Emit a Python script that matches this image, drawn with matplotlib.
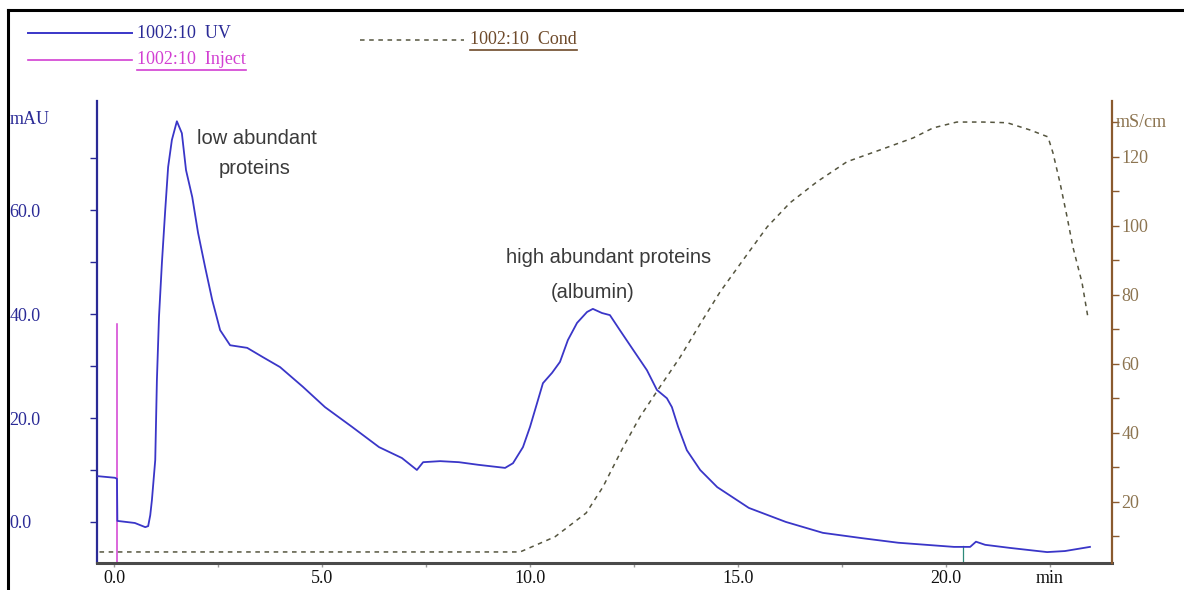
import matplotlib.pyplot as plt
from matplotlib.lines import Line2D

# UV absorbance trace, 1002:10 run
uv_time = [-0.38, 0.02, 0.07, 0.08, 0.50, 0.75, 0.82, 0.87, 0.91, 0.99, 1.03, 1.08,
           1.15, 1.23, 1.30, 1.39, 1.51, 1.63, 1.73, 1.88, 2.02, 2.19, 2.36, 2.55,
           2.79, 3.20, 3.58, 3.99, 4.54, 5.07, 5.72, 6.37, 6.92, 7.28, 7.43, 7.84,
           8.29, 8.75, 9.40, 9.59, 9.83, 10.00, 10.17, 10.31, 10.53, 10.72, 10.91,
           11.13, 11.37, 11.51, 11.73, 11.92, 12.16, 12.48, 12.81, 13.05, 13.29,
           13.41, 13.56, 13.77, 14.09, 14.50, 15.26, 16.15, 17.04, 17.96, 18.85,
           20.19, 20.58, 20.72, 20.94, 21.54, 22.43, 22.86, 23.46]
uv_mau = [8.8, 8.5, 8.3, 0.2, -0.2, -1.0, -0.8, 1.3, 4.2, 11.9, 27.3, 39.4,
          49.8, 60.0, 68.3, 73.5, 77.1, 74.8, 67.7, 62.5, 55.6, 49.0, 42.7, 36.9,
          34.0, 33.5, 31.7, 29.8, 26.0, 22.1, 18.3, 14.4, 12.3, 10.0, 11.5, 11.7,
          11.5, 11.0, 10.4, 11.3, 14.4, 18.3, 22.9, 26.7, 28.7, 30.8, 35.0,
          38.3, 40.4, 41.0, 40.2, 39.8, 36.9, 33.1, 29.2, 25.4, 23.8,
          22.1, 18.3, 13.8, 10.0, 6.7, 2.7, 0.0, -2.1, -3.1, -4.0,
          -4.8, -4.8, -3.8, -4.4, -5.0, -5.8, -5.6, -4.8]

# conductivity (mS/cm)
cond_time = [-0.35, 9.76, 10.60, 11.35, 11.75, 12.24, 12.64, 13.12, 13.61, 14.09,
             14.57, 15.12, 15.70, 16.25, 16.90, 17.62, 18.41, 19.21, 19.69, 20.26,
             20.89, 21.47, 22.02, 22.45, 22.57, 22.74, 22.91, 23.05, 23.27, 23.41]
cond_ms = [5.5, 5.5, 9.9, 16.8, 24.3, 35.9, 44.6, 53.3, 62.0, 71.6,
           80.9, 90.1, 99.7, 106.7, 112.8, 118.6, 122.0, 125.5, 128.4, 130.1,
           130.1, 129.9, 127.8, 125.8, 121.2, 112.5, 102.6, 93.9, 83.5, 73.6]

inject_time = 0.07
inject_top = 38.0
fraction_mark = 20.41

x_ticks = [0, 5, 10, 15, 20, 22.5]
x_labels = ['0.0', '5.0', '10.0', '15.0', '20.0', 'min']
uv_ticks = [0, 20, 40, 60]
uv_labels = ['0.0', '20.0', '40.0', '60.0']
cond_ticks = [20, 40, 60, 80, 100, 120]

UV_BLUE = '#3a36c8'
AXIS_BLUE = '#2a2a96'
MAGENTA = '#d23fd2'
BROWN = '#8a5a2e'
TAN = '#8c7450'
COND_GREY = '#55553f'

W, H = 1184, 590
fig = plt.figure(figsize=(W / 100, H / 100), dpi=100)
plt.rcParams['font.family'] = ['Liberation Serif', 'DejaVu Serif']


def fx(px):
    return px / W


def fy(py):
    return 1 - py / H


ax = fig.add_axes([fx(97), fy(563), fx(1112) - fx(97), fy(101) - fy(563)])
ax2 = ax.twinx()

ax.plot(uv_time, uv_mau, color=UV_BLUE, lw=1.3, zorder=3)
ax.plot([inject_time, inject_time], [-8, inject_top], color=MAGENTA, lw=1.1, zorder=2)
ax.plot([fraction_mark, fraction_mark], [-8, -4.6], color='#2e8a7a', lw=0.9, zorder=2)
ax2.plot(cond_time, cond_ms, color=COND_GREY, lw=1.1, ls=(0, (3, 3)))

ax.set_xlim(-0.41, 23.99)
ax.set_ylim(-7.9, 81.0)
ax2.set_ylim(2.3, 136.2)

# left axis: blue, labels pushed out to the frame
ax.set_yticks(uv_ticks)
ax.set_yticklabels(uv_labels)
ax.set_yticks(list(range(10, 90, 20)), minor=True)
ax.tick_params(axis='y', which='both', direction='out', length=5, width=1,
               color=AXIS_BLUE, labelcolor=AXIS_BLUE, labelsize=13, pad=58)
for lab in ax.get_yticklabels():
    lab.set_ha('left')

ax.set_xticks(x_ticks)
ax.set_xticklabels(x_labels)
ax.set_xticks([2.5, 7.5, 12.5, 17.5], minor=True)
ax.tick_params(axis='x', which='both', direction='out', length=3, width=1,
               color='#9a9a9a', labelcolor='#111111', labelsize=13, pad=2)

ax2.set_yticks(cond_ticks)
ax2.set_yticks(list(range(10, 140, 20)), minor=True)
ax2.tick_params(axis='y', which='both', direction='out', length=5, width=1,
                color=BROWN, labelcolor=TAN, labelsize=13, pad=2)

for a in (ax, ax2):
    a.spines['top'].set_visible(False)
    a.patch.set_visible(False)
ax.spines['right'].set_visible(False)
ax.spines['left'].set_color(AXIS_BLUE)
ax.spines['left'].set_linewidth(1.6)
ax.spines['bottom'].set_color('#4a4a4a')
ax.spines['bottom'].set_linewidth(2.2)
ax2.spines['left'].set_visible(False)
ax2.spines['bottom'].set_visible(False)
ax2.spines['right'].set_color(BROWN)
ax2.spines['right'].set_linewidth(1.6)

# peak annotations
sans = ['Liberation Sans', 'DejaVu Sans']
ax.text(3.44, 73.8, 'low abundant', family=sans, fontsize=14.5, color='#3a3a3a',
        ha='center', va='center', zorder=4)
ax.text(3.39, 68.1, 'proteins', family=sans, fontsize=14.5, color='#3a3a3a',
        ha='center', va='center', zorder=4)
ax.text(11.88, 50.8, 'high abundant proteins', family=sans, fontsize=14.5,
        color='#3a3a3a', ha='center', va='center', zorder=4)
ax.text(11.51, 44.2, '(albumin)', family=sans, fontsize=14.5, color='#3a3a3a',
        ha='center', va='center', zorder=4)

# unit labels
fig.text(fx(10), fy(120), 'mAU', color=AXIS_BLUE, fontsize=13, va='center')
fig.text(fx(1116), fy(123), 'mS/cm', color=TAN, fontsize=13, va='center')

# curve key along the top
fig.add_artist(Line2D([fx(28), fx(132)], [fy(33), fy(33)], color=UV_BLUE, lw=1.4))
fig.add_artist(Line2D([fx(28), fx(132)], [fy(60), fy(60)], color=MAGENTA, lw=1.2))
fig.add_artist(Line2D([fx(360), fx(464)], [fy(40), fy(40)], color=COND_GREY, lw=1.1,
                      ls=(0, (3, 3))))
key_uv = fig.text(fx(137), fy(33), '1002:10  UV', color=AXIS_BLUE, fontsize=13, va='center')
key_inj = fig.text(fx(137), fy(60), '1002:10  Inject', color=MAGENTA, fontsize=13, va='center')
key_cond = fig.text(fx(470), fy(40), '1002:10  Cond', color='#6e4a2a', fontsize=13, va='center')

fig.canvas.draw()
for t in (key_inj, key_cond):
    bb = t.get_window_extent()
    fig.add_artist(Line2D([bb.x0 / W, bb.x1 / W], [(bb.y0 - 1) / H] * 2,
                          color=t.get_color(), lw=1.2))

# outer frame, cut at the right and bottom edges
fig.add_artist(Line2D([fx(8), fx(8)], [fy(10), 0], color='black', lw=2.2))
fig.add_artist(Line2D([fx(8), 1], [fy(10), fy(10)], color='black', lw=2.2))

fig.savefig('out.png', dpi=100)
